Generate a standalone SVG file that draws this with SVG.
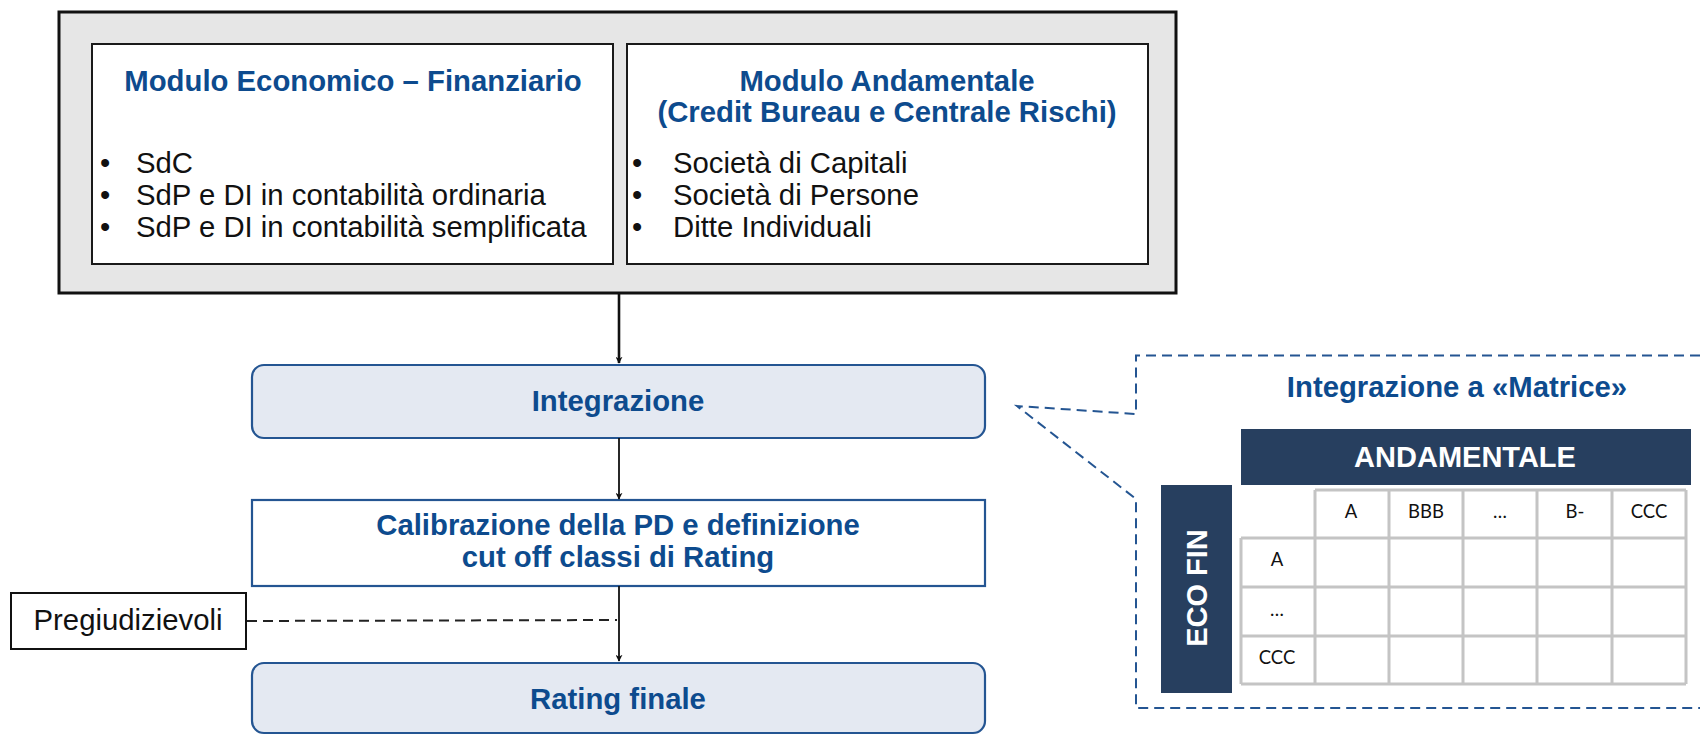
<svg xmlns="http://www.w3.org/2000/svg" width="1700" height="735" viewBox="0 0 1700 735">
  <style>
    .title { font-family: "Liberation Sans", Arial, sans-serif; font-weight: bold; font-size: 29.3px; fill: #0d4b8e; }
    .body { font-family: "Liberation Sans", Arial, sans-serif; font-size: 29.3px; fill: #111; }
    .flow { fill: #e4e9f2; stroke: #245592; stroke-width: 2.2; }
    .flowplain { fill: #ffffff; stroke: #245592; stroke-width: 2.2; }
    .module { fill: #ffffff; stroke: #1a1a1a; stroke-width: 2; }
    .navy { fill: #273f5f; }
    .head { font-family: "Liberation Sans", Arial, sans-serif; font-weight: bold; font-size: 29px; fill: #ffffff; }
    .cell { font-family: Lato, "Liberation Sans", sans-serif; font-size: 18.5px; fill: #111; }
    .grid { stroke: #c4c4c4; stroke-width: 3; fill: none; }
    .arrow { stroke: #111; stroke-width: 1.8; fill: none; marker-end: url(#tip); }
  </style>
  <defs>
    <marker id="tip" viewBox="0 0 10 10" refX="9" refY="5" markerWidth="7" markerHeight="7" markerUnits="userSpaceOnUse" orient="auto">
      <path d="M0,0 L10,5 L0,10 L3,5 Z" fill="#111"/>
    </marker>
  </defs>

  <!-- input modules -->
  <g id="moduli">
    <rect x="59" y="12" width="1117" height="281" fill="#e6e6e6" stroke="#111" stroke-width="3"/>
  </g>
  <g id="modulo-eco-fin">
    <rect class="module" x="92" y="44" width="521" height="220"/>
    <text class="title" x="353" y="91" text-anchor="middle">Modulo Economico – Finanziario</text>
    <g class="body">
      <text x="100" y="173">•</text><text x="136" y="173">SdC</text>
      <text x="100" y="205">•</text><text x="136" y="205">SdP e DI in contabilità ordinaria</text>
      <text x="100" y="237">•</text><text x="136" y="237">SdP e DI in contabilità semplificata</text>
    </g>
  </g>
  <g id="modulo-andamentale">
    <rect class="module" x="627" y="44" width="521" height="220"/>
    <text class="title" x="887" y="91" text-anchor="middle">Modulo Andamentale</text>
    <text class="title" x="887" y="122" text-anchor="middle">(Credit Bureau e Centrale Rischi)</text>
    <g class="body">
      <text x="632" y="173">•</text><text x="673" y="173">Società di Capitali</text>
      <text x="632" y="205">•</text><text x="673" y="205">Società di Persone</text>
      <text x="632" y="237">•</text><text x="673" y="237">Ditte Individuali</text>
    </g>
  </g>

  <!-- process steps -->
  <g id="integrazione">
    <rect class="flow" x="252" y="365" width="733" height="73" rx="12"/>
    <text class="title" x="618" y="411" text-anchor="middle">Integrazione</text>
  </g>
  <g id="calibrazione">
    <rect class="flowplain" x="252" y="500" width="733" height="86"/>
    <text class="title" x="618" y="535" text-anchor="middle">Calibrazione della PD e definizione</text>
    <text class="title" x="618" y="567" text-anchor="middle">cut off classi di Rating</text>
  </g>
  <g id="rating-finale">
    <rect class="flow" x="252" y="663" width="733" height="70" rx="12"/>
    <text class="title" x="618" y="709" text-anchor="middle">Rating finale</text>
  </g>
  <g id="pregiudizievoli">
    <rect x="11" y="593" width="235" height="56" fill="#fff" stroke="#111" stroke-width="2"/>
    <text class="body" x="128" y="630" text-anchor="middle">Pregiudizievoli</text>
  </g>

  <!-- matrix detail -->
  <g id="matrice">
    <path d="M1700,355.5 H1136 V414 L1017,406 L1136,499 V708 H1700" fill="none" stroke="#245592" stroke-width="2" stroke-dasharray="10,6"/>
    <text class="title" x="1457" y="397" text-anchor="middle">Integrazione a «Matrice»</text>
    <rect class="navy" x="1241" y="429" width="450" height="56"/>
    <text class="head" x="1465" y="467" text-anchor="middle">ANDAMENTALE</text>
    <rect class="navy" x="1161" y="485" width="71" height="208"/>
    <text class="head" transform="translate(1207,588) rotate(-90)" text-anchor="middle">ECO FIN</text>
    <g class="grid">
      <path d="M1315,490 H1686 M1241,538 H1686 M1241,587 H1686 M1241,636 H1686 M1241,684 H1686"/>
      <path d="M1241,538 V684 M1315,490 V684 M1389,490 V684 M1463,490 V684 M1537,490 V684 M1612,490 V684 M1686,490 V684"/>
    </g>
    <g class="cell" text-anchor="middle">
      <text x="1351" y="518">A</text>
      <text x="1426" y="518">BBB</text>
      <text x="1500" y="518">…</text>
      <text x="1575" y="518">B-</text>
      <text x="1649" y="518">CCC</text>
      <text x="1277" y="566">A</text>
      <text x="1277" y="616">…</text>
      <text x="1277" y="664">CCC</text>
    </g>
  </g>

  <!-- connectors -->
  <g id="connectors">
    <line class="arrow" x1="619" y1="293" x2="619" y2="363" style="stroke-width:2.6"/>
    <line class="arrow" x1="619" y1="438" x2="619" y2="499"/>
    <line class="arrow" x1="619" y1="586" x2="619" y2="661"/>
    <line x1="247" y1="621" x2="617" y2="620" stroke="#222" stroke-width="2" stroke-dasharray="10,6"/>
  </g>
</svg>
